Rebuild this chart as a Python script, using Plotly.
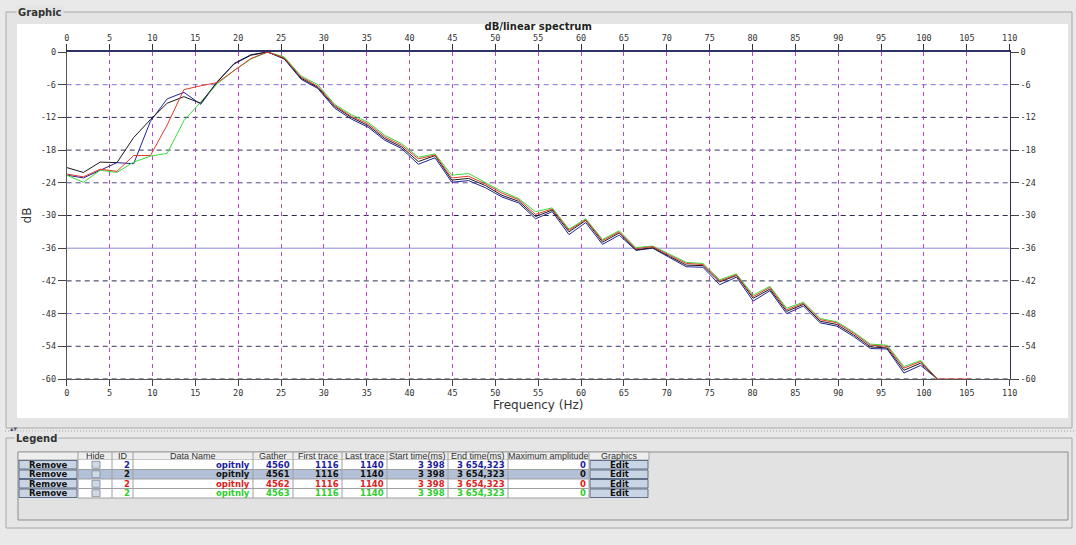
import plotly.graph_objects as go

# ---------------- data ----------------
freq = [0, 1.95, 3.91, 5.86, 7.81, 9.77, 11.72, 13.67, 15.63, 17.58, 19.53, 21.48,
        23.44, 25.39, 27.34, 29.30, 31.25, 33.20, 35.16, 37.11, 39.06, 41.02, 42.97,
        44.92, 46.88, 48.83, 50.78, 52.73, 54.69, 56.64, 58.59, 60.55, 62.50, 64.45,
        66.41, 68.36, 70.31, 72.27, 74.22, 76.17, 78.13, 80.08, 82.03, 83.98, 85.94,
        87.89, 89.84, 91.80, 93.75, 95.70, 97.66, 99.61, 101.56, 103.52, 105.47]

db_4560 = [-22.6, -23.1, -21.7, -20.3, -20.5, -12.7, -8.6, -7.4, -9.6, -5.5, -2.1, -0.5, 0.0,
           -1.3, -5.0, -6.7, -10.3, -12.3, -13.8, -16.2, -17.7, -20.6, -19.4, -23.9, -23.6,
           -24.9, -26.6, -27.7, -30.6, -29.3, -33.5, -31.3, -35.3, -33.6, -36.4, -36.0, -37.7,
           -39.4, -39.5, -42.7, -41.3, -45.7, -43.8, -48.0, -46.6, -49.7, -50.3, -52.2, -54.4,
           -54.5, -58.9, -57.5, -60.0]
db_4561 = [-21.2, -22.1, -20.2, -20.3, -15.7, -12.4, -9.4, -8.2, -9.4, -5.4, -2.2, -0.6, 0.0,
           -1.2, -4.8, -6.5, -10.0, -12.0, -13.5, -15.9, -17.4, -20.1, -19.0, -23.5, -23.2,
           -24.5, -26.3, -27.4, -30.2, -29.0, -33.0, -30.9, -34.9, -33.2, -36.3, -35.9, -37.5,
           -39.1, -39.2, -42.2, -41.0, -45.2, -43.5, -47.6, -46.3, -49.4, -50.0, -51.9, -54.1,
           -54.3, -58.4, -57.1, -60.0]
db_4562 = [-22.4, -22.9, -21.5, -21.9, -19.0, -19.0, -13.4, -6.9, -6.2, -5.6, -3.4, -1.2, 0.0,
           -1.1, -4.6, -6.3, -9.8, -11.8, -13.2, -15.6, -17.1, -19.6, -18.9, -23.1, -22.8,
           -24.2, -25.9, -27.1, -29.8, -28.8, -32.7, -30.8, -34.6, -33.0, -36.1, -35.7, -37.3,
           -38.8, -39.0, -42.0, -40.9, -44.9, -43.2, -47.3, -46.1, -49.1, -49.7, -51.6, -53.8,
           -54.0, -58.0, -56.8, -60.0, -60.0, -60.0]
db_4563 = [-22.6, -23.9, -21.7, -22.1, -20.2, -19.1, -18.6, -12.6, -9.2, -5.8, -3.4, -1.3, 0.0,
           -0.9, -4.4, -6.0, -9.6, -11.5, -12.9, -15.3, -16.8, -19.3, -18.7, -22.6, -22.3,
           -23.9, -25.6, -26.9, -29.3, -28.6, -32.5, -30.6, -34.4, -32.8, -35.9, -35.6, -37.1,
           -38.6, -38.8, -41.8, -40.7, -44.6, -43.0, -47.0, -45.9, -48.9, -49.5, -51.4, -53.6,
           -53.8, -57.7, -56.6, -60.0]

x_ticks = list(range(0, 115, 5))
y_ticks = [0, -6, -12, -18, -24, -30, -36, -42, -48, -54, -60]
y_ticktext = [str(v) for v in y_ticks]

# legend table content
col_headers = ["", "Hide", "ID", "Data Name", "Gather", "First trace", "Last trace",
               "Start time(ms)", "End time(ms)", "Maximum amplitude", "Graphics"]
ids = [2, 2, 2, 2]
data_names = ["opitnly", "opitnly", "opitnly", "opitnly"]
gathers = [4560, 4561, 4562, 4563]
first_traces = [1116, 1116, 1116, 1116]
last_traces = [1140, 1140, 1140, 1140]
start_times = ["3 398", "3 398", "3 398", "3 398"]
end_times = ["3 654,323", "3 654,323", "3 654,323", "3 654,323"]
max_amps = [0, 0, 0, 0]

# ---------------- styles ----------------
W, H = 1076, 545
series_colors = {"4560": "#22229a", "4561": "#1a1a1a", "4562": "#e03a2a", "4563": "#3ada3a"}
row_text_colors = ["#1c1c9c", "#111111", "#e02020", "#2ecc2e"]
grid_styles = {  # y value -> (color, dash)
    -6: ("#7d6fd8", "5px,4px"), -12: ("#2a2a50", "5px,4px"), -18: ("#3a3064", "5px,4px"),
    -24: ("#54468e", "5px,4px"), -30: ("#2a2a50", "5px,4px"), -36: ("#8c8cd8", "solid"),
    -42: ("#2a2a50", "5px,4px"), -48: ("#7d6fd8", "5px,4px"), -54: ("#3a3064", "5px,4px"),
    -60: ("#2a2a50", "5px,4px"),
}


def px(x):
    return x / W


def py(y):
    return 1 - y / H


fig = go.Figure()

order = [("4560", db_4560), ("4563", db_4563), ("4561", db_4561), ("4562", db_4562)]
for name, vals in order:
    fig.add_trace(go.Scatter(x=freq[:len(vals)], y=vals, mode="lines", name=name,
                             line=dict(color=series_colors[name], width=1),
                             showlegend=False, hoverinfo="x+y"))
# invisible trace so that the top / right mirror axes are drawn
fig.add_trace(go.Scatter(x=freq[:len(db_4561)], y=db_4561, xaxis="x2", yaxis="y2",
                         mode="lines", line=dict(width=0), opacity=0, showlegend=False,
                         hoverinfo="skip"))

shapes = []
ann = []

# frame / panels
shapes.append(dict(type="rect", xref="paper", yref="paper", x0=px(6), x1=px(1072),
                   y0=py(428), y1=py(12), line=dict(color="#a8a8a8", width=1),
                   fillcolor="#e4e4e4", layer="below"))
shapes.append(dict(type="rect", xref="paper", yref="paper", x0=px(17), x1=px(1068),
                   y0=py(418), y1=py(24), line=dict(width=0), fillcolor="#ffffff", layer="below"))
# splitter
shapes.append(dict(type="line", xref="paper", yref="paper", x0=px(5), x1=px(1074),
                   y0=py(431), y1=py(431), line=dict(color="#9a9a9a", width=1, dash="1px,2px")))
# legend group
shapes.append(dict(type="rect", xref="paper", yref="paper", x0=px(6), x1=px(1072),
                   y0=py(528), y1=py(438), line=dict(color="#a8a8a8", width=1),
                   fillcolor="#e6e6e6", layer="below"))
shapes.append(dict(type="rect", xref="paper", yref="paper", x0=px(18), x1=px(1068),
                   y0=py(520), y1=py(452), line=dict(color="#8c8c8c", width=1),
                   fillcolor="#e2e2e2", layer="below"))

# horizontal grid lines
for v in y_ticks:
    if v in grid_styles:
        c, d = grid_styles[v]
        shapes.append(dict(type="line", xref="x", yref="y", x0=0, x1=110, y0=v, y1=v,
                           line=dict(color=c, width=1, dash=d), layer="below"))

# group titles
ann.append(dict(text="<b>Graphic</b>", x=px(16), y=py(12), xref="paper", yref="paper",
                xanchor="left", yanchor="middle", showarrow=False, bgcolor="#e4e4e4",
                font=dict(family="DejaVu Sans", size=10, color="#333")))
ann.append(dict(text="<b>Legend</b>", x=px(14), y=py(438), xref="paper", yref="paper",
                xanchor="left", yanchor="middle", showarrow=False, bgcolor="#e6e6e6",
                font=dict(family="DejaVu Sans", size=10, color="#333")))
ann.append(dict(text="▴▾", x=px(8), y=py(429), xref="paper", yref="paper",
                xanchor="left", yanchor="middle", showarrow=False,
                font=dict(family="DejaVu Sans", size=7, color="#557")))

# ---------------- table ----------------
col_x = [18, 78, 112, 133, 253, 293, 342, 387, 448, 508, 589, 649]
row_top = [452, 460, 469.5, 479, 488.5, 498]
# header
shapes.append(dict(type="rect", xref="paper", yref="paper", x0=px(col_x[0]), x1=px(col_x[-1]),
                   y0=py(row_top[1]), y1=py(row_top[0]), line=dict(color="#a0a0a0", width=1),
                   fillcolor="#eeeeee"))
for i, h in enumerate(col_headers):
    ann.append(dict(text=h, x=px((col_x[i] + col_x[i + 1]) / 2), y=py(456.2), xref="paper",
                    yref="paper", xanchor="center", yanchor="middle", showarrow=False,
                    font=dict(family="Liberation Sans", size=9, color="#333")))
for r in range(4):
    y0, y1 = row_top[r + 1], row_top[r + 2]
    yc = (y0 + y1) / 2
    bg = "#b2c0d8" if r == 1 else "#ffffff"
    shapes.append(dict(type="rect", xref="paper", yref="paper", x0=px(col_x[1]), x1=px(col_x[10]),
                       y0=py(y1), y1=py(y0), line=dict(width=0), fillcolor=bg))
    # buttons
    for bx0, bx1, label in [(19, 77, "Remove"), (590, 648, "Edit")]:
        shapes.append(dict(type="rect", xref="paper", yref="paper", x0=px(bx0), x1=px(bx1),
                           y0=py(y1 - 0.5), y1=py(y0 + 0.5), line=dict(color="#5e6e86", width=1),
                           fillcolor="#c9d4e4"))
        ann.append(dict(text="<b>%s</b>" % label, x=px((bx0 + bx1) / 2), y=py(yc), xref="paper",
                        yref="paper", xanchor="center", yanchor="middle", showarrow=False,
                        font=dict(family="DejaVu Sans", size=8.5, color="#111")))
    # checkbox
    shapes.append(dict(type="rect", xref="paper", yref="paper", x0=px(92), x1=px(100),
                       y0=py(yc + 3.5), y1=py(yc - 3.5), line=dict(color="#8a96a8", width=1),
                       fillcolor="#d2d9e4"))
    vals = [ids[r], data_names[r], gathers[r], first_traces[r], last_traces[r],
            start_times[r], end_times[r], max_amps[r]]
    for j, v in enumerate(vals):
        ci = j + 2
        ann.append(dict(text="<b>%s</b>" % v, x=px(col_x[ci + 1] - 1.5), y=py(yc), xref="paper",
                        yref="paper", xanchor="right", yanchor="middle", showarrow=False,
                        font=dict(family="DejaVu Sans", size=8.5, color=row_text_colors[r])))
# grid of table
for cx in col_x[1:-1]:
    shapes.append(dict(type="line", xref="paper", yref="paper", x0=px(cx), x1=px(cx),
                       y0=py(row_top[-1]), y1=py(row_top[0]), line=dict(color="#a0a0a0", width=1)))
for ry in row_top[2:]:
    shapes.append(dict(type="line", xref="paper", yref="paper", x0=px(col_x[1]), x1=px(col_x[10]),
                       y0=py(ry), y1=py(ry), line=dict(color="#a0a0a0", width=1)))

# ---------------- axes ----------------
xdom = [px(66.7), px(1009.7)]
ydom = [py(379), py(52)]
tickfont = dict(family="DejaVu Sans Mono", size=8.5, color="#333")

fig.update_layout(
    width=W, height=H, margin=dict(l=0, r=0, t=0, b=0, autoexpand=False),
    paper_bgcolor="#e9e9e9", plot_bgcolor="rgba(0,0,0,0)",
    shapes=shapes, annotations=ann, showlegend=False,
    xaxis=dict(domain=xdom, range=[0, 110], tickvals=x_ticks, ticks="outside", ticklen=6,
               tickcolor="#444", showline=True, linecolor="#555", linewidth=1,
               showgrid=True, gridcolor="#c545c8", griddash="4px,4px", gridwidth=1,
               zeroline=False, tickfont=tickfont, anchor="y", automargin=False,
               title=dict(text="Frequency (Hz)", standoff=2,
                          font=dict(family="DejaVu Sans", size=12, color="#333"))),
    xaxis2=dict(domain=xdom, range=[0, 110], tickvals=x_ticks, ticks="outside", ticklen=6,
                tickcolor="#333", showline=True, linecolor="#303068", linewidth=2,
                showgrid=False, zeroline=False, tickfont=tickfont, overlaying="x",
                side="top", anchor="y", automargin=False,
                title=dict(text="<b>dB/linear spectrum</b>", standoff=0,
                           font=dict(family="DejaVu Sans", size=10, color="#222"))),
    yaxis=dict(domain=ydom, range=[-60, 0], tickvals=y_ticks, ticktext=y_ticktext,
               ticks="outside", ticklen=8, tickcolor="#444", showline=True, linecolor="#555",
               linewidth=1, showgrid=False, zeroline=False, tickfont=tickfont, anchor="x",
               automargin=False,
               title=dict(text="dB", standoff=6,
                          font=dict(family="DejaVu Sans", size=12, color="#333"))),
    yaxis2=dict(domain=ydom, range=[-60, 0], tickvals=y_ticks, ticktext=y_ticktext,
                ticks="outside", ticklen=8, tickcolor="#444", showline=True, linecolor="#303050",
                linewidth=1, showgrid=False, zeroline=False, tickfont=tickfont,
                overlaying="y", side="right", anchor="x", automargin=False),
)

fig.write_html("out.html", config={"displayModeBar": False},
               post_script="document.body.style.margin='0';"
                           "document.body.style.background='#e9e9e9';")
